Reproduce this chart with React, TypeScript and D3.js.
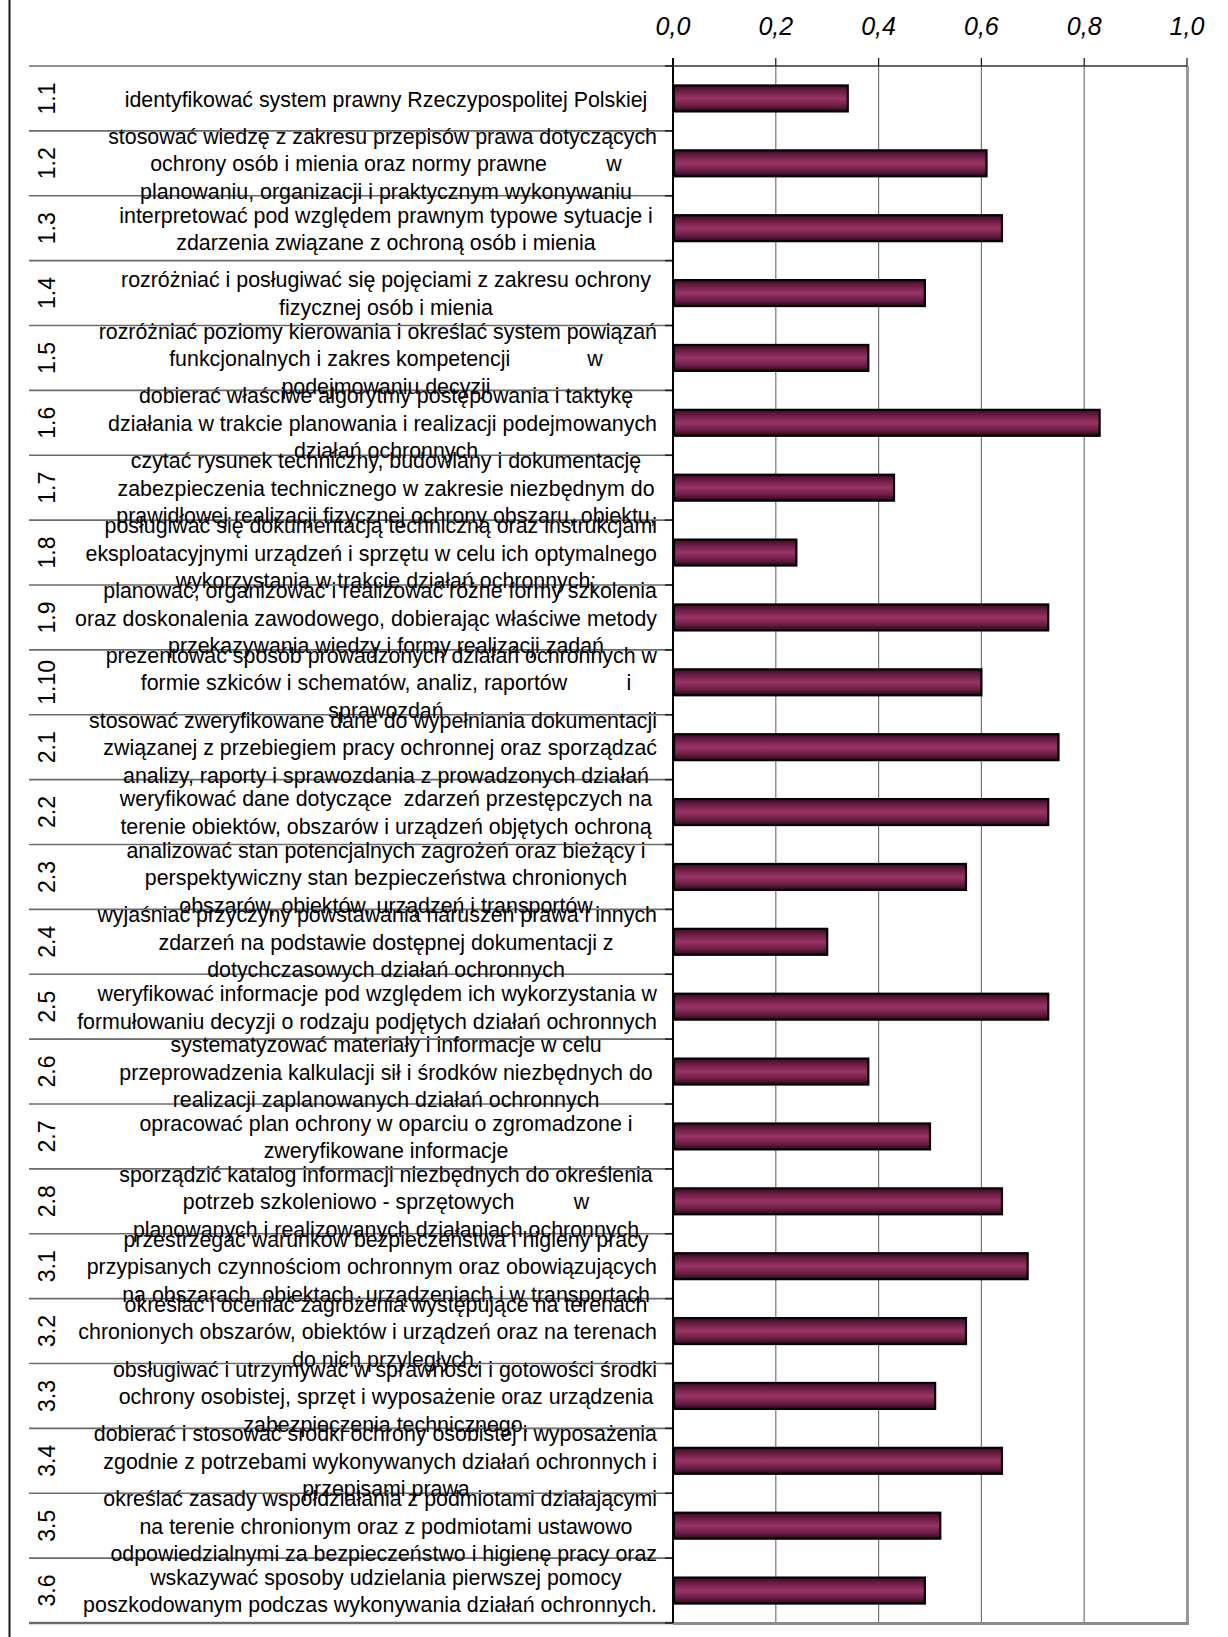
import React, { useEffect, useRef } from 'react';
import * as d3 from 'd3';

const codes = ['1.1','1.2','1.3','1.4','1.5','1.6','1.7','1.8','1.9','1.10','2.1','2.2','2.3','2.4','2.5','2.6','2.7','2.8','3.1','3.2','3.3','3.4','3.5','3.6'];

const values = [0.34,0.61,0.64,0.49,0.38,0.83,0.43,0.24,0.73,0.60,0.75,0.73,0.57,0.30,0.73,0.38,0.50,0.64,0.69,0.57,0.51,0.64,0.52,0.49];

const labels: string[][] = [
  ['identyfikować system prawny Rzeczypospolitej Polskiej'],
  ['stosować wiedzę z zakresu przepisów prawa dotyczących', 'ochrony osób i mienia oraz normy prawne          w', 'planowaniu, organizacji i praktycznym wykonywaniu'],
  ['interpretować pod względem prawnym typowe sytuacje i', 'zdarzenia związane z ochroną osób i mienia'],
  ['rozróżniać i posługiwać się pojęciami z zakresu ochrony', 'fizycznej osób i mienia'],
  ['rozróżniać poziomy kierowania i określać system powiązań', 'funkcjonalnych i zakres kompetencji             w', 'podejmowaniu decyzji'],
  ['dobierać właściwe algorytmy postępowania i taktykę', 'działania w trakcie planowania i realizacji podejmowanych', 'działań ochronnych'],
  ['czytać rysunek techniczny, budowlany i dokumentację', 'zabezpieczenia technicznego w zakresie niezbędnym do', 'prawidłowej realizacji fizycznej ochrony obszaru, obiektu,'],
  ['posługiwać się dokumentacją techniczną oraz instrukcjami', 'eksploatacyjnymi urządzeń i sprzętu w celu ich optymalnego', 'wykorzystania w trakcie działań ochronnych;'],
  ['planować, organizować i realizować różne formy szkolenia', 'oraz doskonalenia zawodowego, dobierając właściwe metody', 'przekazywania wiedzy i formy realizacji zadań'],
  ['prezentować sposób prowadzonych działań ochronnych w', 'formie szkiców i schematów, analiz, raportów          i', 'sprawozdań'],
  ['stosować zweryfikowane dane do wypełniania dokumentacji', 'związanej z przebiegiem pracy ochronnej oraz sporządzać', 'analizy, raporty i sprawozdania z prowadzonych działań'],
  ['weryfikować dane dotyczące  zdarzeń przestępczych na', 'terenie obiektów, obszarów i urządzeń objętych ochroną'],
  ['analizować stan potencjalnych zagrożeń oraz bieżący i', 'perspektywiczny stan bezpieczeństwa chronionych', 'obszarów, obiektów, urządzeń i transportów'],
  ['wyjaśniać przyczyny powstawania naruszeń prawa i innych', 'zdarzeń na podstawie dostępnej dokumentacji z', 'dotychczasowych działań ochronnych'],
  ['weryfikować informacje pod względem ich wykorzystania w', 'formułowaniu decyzji o rodzaju podjętych działań ochronnych'],
  ['systematyzować materiały i informacje w celu', 'przeprowadzenia kalkulacji sił i środków niezbędnych do', 'realizacji zaplanowanych działań ochronnych'],
  ['opracować plan ochrony w oparciu o zgromadzone i', 'zweryfikowane informacje'],
  ['sporządzić katalog informacji niezbędnych do określenia', 'potrzeb szkoleniowo - sprzętowych          w', 'planowanych i realizowanych działaniach ochronnych'],
  ['przestrzegać warunków bezpieczeństwa i higieny pracy', 'przypisanych czynnościom ochronnym oraz obowiązujących', 'na obszarach, obiektach, urządzeniach i w transportach'],
  ['określać i oceniać zagrożenia występujące na terenach', 'chronionych obszarów, obiektów i urządzeń oraz na terenach', 'do nich przyległych.'],
  ['obsługiwać i utrzymywać w sprawności i gotowości środki', 'ochrony osobistej, sprzęt i wyposażenie oraz urządzenia', 'zabezpieczenia technicznego.'],
  ['dobierać i stosować środki ochrony osobistej i wyposażenia', 'zgodnie z potrzebami wykonywanych działań ochronnych i', 'przepisami prawa'],
  ['określać zasady współdziałania z podmiotami działającymi', 'na terenie chronionym oraz z podmiotami ustawowo', 'odpowiedzialnymi za bezpieczeństwo i higienę pracy oraz'],
  ['wskazywać sposoby udzielania pierwszej pomocy', 'poszkodowanym podczas wykonywania działań ochronnych.'],
];

const ticks = [0, 0.2, 0.4, 0.6, 0.8, 1.0];

const W = 1228;
const H = 1637;
const FONT = '"Liberation Sans", Arial, sans-serif';

export default function App() {
  const ref = useRef<SVGSVGElement>(null);

  useEffect(() => {
    const svg = d3.select(ref.current);
    svg.selectAll('*').remove();

    const x = d3.scaleLinear().domain([0, 1]).range([673, 1187]);
    const y = d3.scaleBand<string>().domain(codes).range([66, 1623]).paddingInner(0).paddingOuter(0);
    const bw = y.bandwidth();
    const bh = bw * 0.4;

    const defs = svg.append('defs');
    const grad = defs.append('linearGradient').attr('id', 'barGrad').attr('x1', 0).attr('y1', 0).attr('x2', 0).attr('y2', 1);
    [
      [0, '#3a0b24'],
      [0.22, '#6b1d44'],
      [0.5, '#9a3364'],
      [0.78, '#6b1d44'],
      [1, '#2c0819'],
    ].forEach(([o, c]) => grad.append('stop').attr('offset', o as number).attr('stop-color', c as string));

    // left frame line
    svg.append('line').attr('x1', 9.5).attr('x2', 9.5).attr('y1', 0).attr('y2', H)
      .attr('stroke', '#1a1a1a').attr('stroke-width', 2);

    // gridlines
    svg.append('g').selectAll('line').data(ticks.slice(1, -1)).join('line')
      .attr('x1', (d) => x(d)).attr('x2', (d) => x(d))
      .attr('y1', 66).attr('y2', 1623)
      .attr('stroke', '#777').attr('stroke-width', 1.2);

    // right & bottom plot border (grey)
    svg.append('line').attr('x1', x(1) + 0.5).attr('x2', x(1) + 0.5).attr('y1', 66).attr('y2', 1624.5)
      .attr('stroke', '#999').attr('stroke-width', 3);
    svg.append('line').attr('x1', 673).attr('x2', x(1) + 2).attr('y1', 1623.5).attr('y2', 1623.5)
      .attr('stroke', '#8c8c8c').attr('stroke-width', 3);

    // category separators
    const bounds = codes.map((c) => y(c) as number).concat([1623]);
    svg.append('g').selectAll('line').data(bounds).join('line')
      .attr('x1', 29).attr('x2', 673)
      .attr('y1', (d) => d).attr('y2', (d) => d)
      .attr('stroke', '#6b6b6b').attr('stroke-width', (d, i) => (i === bounds.length - 1 ? 2.5 : 1.6));
    svg.append('g').selectAll('line').data(bounds).join('line')
      .attr('x1', 665).attr('x2', 673)
      .attr('y1', (d) => d).attr('y2', (d) => d)
      .attr('stroke', '#222').attr('stroke-width', 1.6);

    // top axis
    svg.append('line').attr('x1', 673).attr('x2', x(1)).attr('y1', 66).attr('y2', 66)
      .attr('stroke', '#333').attr('stroke-width', 1.6);
    svg.append('g').selectAll('line').data(ticks).join('line')
      .attr('x1', (d) => x(d)).attr('x2', (d) => x(d))
      .attr('y1', 58).attr('y2', 66)
      .attr('stroke', '#111').attr('stroke-width', 1.2);
    svg.append('g').selectAll('text').data(ticks).join('text')
      .attr('x', (d) => x(d)).attr('y', 34.5)
      .attr('text-anchor', 'middle')
      .attr('font-family', FONT).attr('font-size', 25).attr('font-style', 'italic')
      .attr('fill', '#000')
      .text((d) => d3.format('.1f')(d).replace('.', ','));

    // bars
    svg.append('g').selectAll('rect').data(codes).join('rect')
      .attr('x', x(0) + 1)
      .attr('y', (c) => (y(c) as number) + (bw - bh) / 2)
      .attr('width', (c, i) => x(values[i]) - x(0) - 1)
      .attr('height', bh)
      .attr('fill', 'url(#barGrad)')
      .attr('stroke', '#000').attr('stroke-width', 2.2);

    // category axis line
    svg.append('line').attr('x1', 673).attr('x2', 673).attr('y1', 58).attr('y2', 1623)
      .attr('stroke', '#000').attr('stroke-width', 2);

    // code labels (rotated)
    svg.append('g').selectAll('text').data(codes).join('text')
      .attr('transform', (c) => `translate(55,${(y(c) as number) + bw / 2}) rotate(-90)`)
      .attr('text-anchor', 'middle')
      .attr('font-family', FONT).attr('font-size', 23)
      .attr('fill', '#000')
      .text((c) => c);

    // description labels
    const lh = 27.5;
    const cx = 386;
    const boxL = 75;
    const boxR = 657;
    const maxW = boxR - boxL;
    const squeeze = 0.95;
    const g = svg.append('g');
    codes.forEach((c, i) => {
      const lines = labels[i];
      const cy = (y(c) as number) + bw / 2;
      lines.forEach((ln, j) => {
        const t = g.append('text')
          .attr('x', cx)
          .attr('y', cy + (j - (lines.length - 1) / 2) * lh)
          .attr('dy', '0.36em')
          .attr('text-anchor', 'middle')
          .attr('font-family', FONT).attr('font-size', 22.5)
          .attr('fill', '#000')
          .style('white-space', 'pre')
          .text(ln);
        const node = t.node() as SVGTextElement;
        const w = Math.min(node.getComputedTextLength() * squeeze, maxW);
        const px = Math.max(boxL + w / 2, Math.min(cx, boxR - w / 2));
        t.attr('x', px)
          .attr('textLength', w)
          .attr('lengthAdjust', 'spacingAndGlyphs');
      });
    });
  }, []);

  return (
    <div style={{ position: 'absolute', left: 0, top: 0, background: '#fff' }}>
      <svg ref={ref} width={W} height={H} style={{ display: 'block', background: '#fff' }} />
    </div>
  );
}
